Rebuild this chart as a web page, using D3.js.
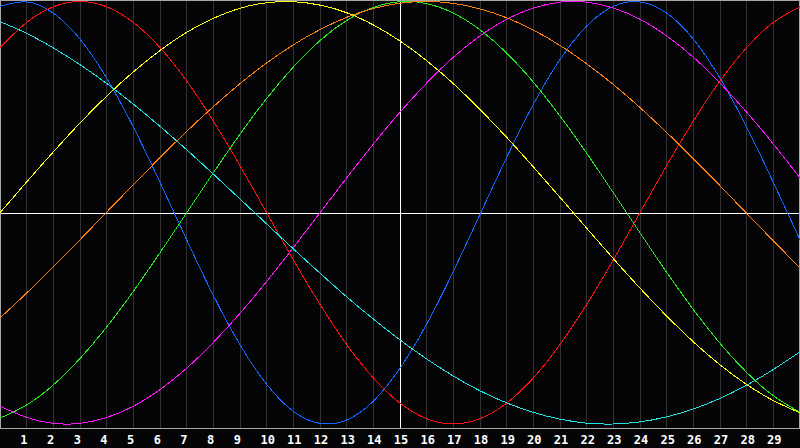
<!DOCTYPE html>
<html>
<head>
<meta charset="utf-8">
<script src="https://cdn.jsdelivr.net/npm/d3@7"></script>
<style>
  html, body { margin: 0; padding: 0; background: #050508; }
  svg { display: block; }
</style>
</head>
<body>
<svg id="chart" width="800" height="448"></svg>
<script>
// days along the bottom
const days = [0, 1, 2, 3, 4, 5, 6, 7, 8, 9, 10, 11, 12, 13, 14, 15, 16, 17, 18, 19, 20,
  21, 22, 23, 24, 25, 26, 27, 28, 29, 30];
const dayLabels = [1, 2, 3, 4, 5, 6, 7, 8, 9, 10, 11, 12, 13, 14, 15, 16, 17, 18, 19, 20,
  21, 22, 23, 24, 25, 26, 27, 28, 29];
const today = 15;

// cycle values for day 0..30
const physical = [0.977, 0.998, 0.945, 0.822, 0.637, 0.406, 0.144, -0.128, -0.391, -0.625,
  -0.812, -0.940, -0.997, -0.981, -0.892, -0.736, -0.527, -0.278, -0.008, 0.262, 0.513,
  0.725, 0.884, 0.977, 0.998, 0.945, 0.822, 0.637, 0.406, 0.144, -0.128];
const emotional = [0.782, 0.901, 0.975, 1.0, 0.975, 0.901, 0.782, 0.624, 0.434, 0.223,
  0.0, -0.223, -0.434, -0.624, -0.782, -0.901, -0.975, -1.0, -0.975, -0.901, -0.782,
  -0.624, -0.434, -0.223, 0.0, 0.223, 0.434, 0.624, 0.782, 0.901, 0.975];
const intellectual = [-0.972, -0.910, -0.815, -0.690, -0.541, -0.372, -0.189, 0.0, 0.189,
  0.372, 0.541, 0.690, 0.815, 0.910, 0.972, 0.999, 0.990, 0.945, 0.866, 0.756, 0.618,
  0.458, 0.282, 0.095, -0.095, -0.282, -0.458, -0.618, -0.756, -0.866, -0.945];
const intuitive = [-0.916, -0.969, -0.997, -0.997, -0.969, -0.916, -0.837, -0.736, -0.614,
  -0.476, -0.325, -0.165, 0.0, 0.165, 0.325, 0.476, 0.614, 0.736, 0.837, 0.916, 0.969,
  0.997, 0.997, 0.969, 0.916, 0.837, 0.736, 0.614, 0.476, 0.325, 0.165];
const aesthetic = [0.0, 0.146, 0.288, 0.425, 0.552, 0.667, 0.768, 0.854, 0.920, 0.968,
  0.994, 0.999, 0.983, 0.947, 0.889, 0.813, 0.720, 0.611, 0.489, 0.357, 0.217, 0.073,
  -0.073, -0.217, -0.357, -0.489, -0.611, -0.720, -0.813, -0.889, -0.947];
const awareness = [-0.498, -0.380, -0.256, -0.128, 0.003, 0.133, 0.261, 0.385, 0.502,
  0.611, 0.709, 0.795, 0.867, 0.925, 0.967, 0.992, 1.0, 0.991, 0.965, 0.923, 0.865,
  0.792, 0.705, 0.607, 0.498, 0.380, 0.256, 0.128, -0.003, -0.133, -0.261];
const spiritual = [0.905, 0.849, 0.780, 0.701, 0.612, 0.514, 0.409, 0.298, 0.183, 0.065,
  -0.053, -0.171, -0.286, -0.398, -0.503, -0.602, -0.692, -0.773, -0.843, -0.900, -0.945,
  -0.977, -0.996, -1.0, -0.990, -0.966, -0.929, -0.879, -0.816, -0.742, -0.658];

const seriesNames = ['physical', 'emotional', 'intellectual', 'intuitive', 'aesthetic', 'awareness', 'spiritual'];
const seriesValues = [physical, emotional, intellectual, intuitive, aesthetic, awareness, spiritual];
const seriesColors = ['#1466ff', '#ff1010', '#22ee22', '#ff10ff', '#ffff10', '#ff8010', '#20e4e4'];

const W = 800, H = 448, plotBottom = 428;

const x = d3.scaleLinear().domain([0, 30]).range([0, W]);
const y = d3.scaleLinear().domain([-1, 1]).range([424, 1.5]);

const svg = d3.select('#chart');

svg.append('rect')
  .attr('width', W).attr('height', H)
  .attr('fill', '#050508');

// day grid
svg.selectAll('.grid')
  .data(dayLabels)
  .enter()
  .append('line')
  .attr('class', 'grid')
  .attr('x1', d => Math.floor(x(d)) + 0.5)
  .attr('x2', d => Math.floor(x(d)) + 0.5)
  .attr('y1', 0)
  .attr('y2', plotBottom)
  .attr('stroke', d => d === today ? '#ffffff' : '#333336')
  .attr('stroke-width', 1)
  .attr('shape-rendering', 'crispEdges');

// zero line
svg.append('line')
  .attr('x1', 0).attr('x2', W)
  .attr('y1', Math.round(y(0)) + 0.5)
  .attr('y2', Math.round(y(0)) + 0.5)
  .attr('stroke', '#ffffff')
  .attr('shape-rendering', 'crispEdges');

// frame
svg.append('rect')
  .attr('x', 0.5).attr('y', 0.5)
  .attr('width', W - 1).attr('height', plotBottom)
  .attr('fill', 'none')
  .attr('stroke', '#a8a8a8')
  .attr('shape-rendering', 'crispEdges');

// cycles
const line = d3.line()
  .x((d, i) => x(days[i]))
  .y(d => y(d))
  .curve(d3.curveNatural);

svg.selectAll('.cycle')
  .data(seriesValues)
  .enter()
  .append('path')
  .attr('class', (d, i) => 'cycle ' + seriesNames[i])
  .attr('d', d => line(d))
  .attr('fill', 'none')
  .attr('stroke', (d, i) => seriesColors[i])
  .attr('stroke-width', 1)
  .attr('shape-rendering', 'crispEdges');

// day labels
svg.selectAll('.label')
  .data(dayLabels)
  .enter()
  .append('text')
  .attr('class', 'label')
  .attr('x', d => x(d) + (d < 10 ? -2.7 : 1))
  .attr('y', 444)
  .attr('text-anchor', 'middle')
  .attr('fill', '#ffffff')
  .attr('font-family', 'DejaVu Sans Mono, monospace')
  .attr('font-weight', 'bold')
  .attr('font-size', 12)
  .text(d => d);
</script>
</body>
</html>
